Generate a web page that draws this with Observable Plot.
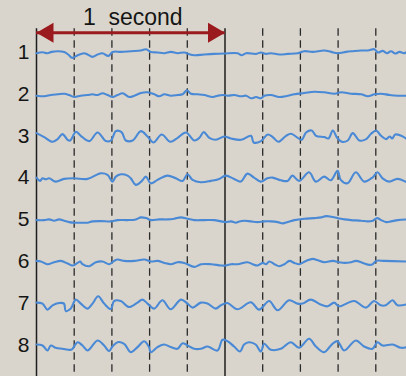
<!DOCTYPE html>
<html>
<head>
<meta charset="utf-8">
<script src="https://cdn.jsdelivr.net/npm/d3@7"></script>
<script src="https://cdn.jsdelivr.net/npm/@observablehq/plot@0.6"></script>
<style>
  html, body { margin: 0; padding: 0; background: #d9d5cc; }
  #chart { width: 406px; height: 376px; overflow: hidden; }
</style>
</head>
<body>
<div id="chart"></div>
<script>
// EEG montage: eight channels, time in ms, amplitude in µV (relative to each channel's baseline)
const channels = ["1", "2", "3", "4", "5", "6", "7", "8"];

const ch1 = [[0,0],[32,1],[58,0],[80,1.3],[112,2],[147,1.3],[168,-1.3],[191,-4.7],[218,-2],[253,0],[271,-1.3],[297,-3.7],[324,-1.3],[350,0],[381,-2.7],[404,1.3],[448,1.3],[501,2],[554,2.7],[581,4],[607,1.3],[642,0.7],[678,0],[713,1.3],[749,0],[784,0.7],[811,-1],[837,-2],[890,-1.3],[943,-0.7],[996,-0.3],[1067,0],[1088,-2],[1112,0],[1165,-0.7],[1191,0.7],[1218,-0.7],[1244,0],[1288,-1.3],[1333,-0.7],[1386,0],[1421,2],[1465,1.3],[1527,2.7],[1563,1.3],[1598,0],[1642,1.3],[1678,2],[1722,2.7],[1758,2.7],[1793,4],[1811,0.7],[1837,2.3],[1860,0],[1881,2],[1903,-0.3],[1926,1.3],[1949,0],[1966,1.3]];

const ch2 = [[0,-0.7],[41,-1.3],[76,0],[112,0.7],[147,1.3],[173,0],[200,-2],[235,-0.7],[271,0],[297,0.7],[324,0],[350,1.7],[377,0],[404,-2],[430,0],[457,1.7],[492,-2],[519,-0.7],[554,2],[589,2.7],[625,0.7],[651,-1.3],[678,0.7],[713,-0.7],[749,0],[775,0.7],[798,4.7],[819,1.3],[855,0.7],[890,0],[935,-2],[961,-0.7],[988,0],[1014,-0.7],[1050,0],[1085,-1.3],[1112,-0.7],[1138,-3.3],[1165,-2],[1191,-3.3],[1209,-0.7],[1244,0],[1288,-2],[1333,-0.7],[1368,0.7],[1421,2],[1474,3.3],[1527,2.7],[1581,1.3],[1616,2.7],[1669,1.3],[1722,0.7],[1758,-1.3],[1793,0.7],[1828,1.3],[1873,0],[1917,-0.7],[1966,-0.7]];

const ch3 = [[0,3.7],[41,-0.3],[85,-5],[112,-2.3],[138,2.7],[165,-3],[179,-3.7],[209,5],[235,1],[280,-4.3],[324,4.3],[368,-4.3],[395,-3.7],[421,5.7],[451,4.7],[474,-3.7],[510,-3.7],[554,5.7],[589,0.3],[621,-5.7],[664,2.3],[710,-5],[749,-1],[793,4.3],[837,-3.7],[864,-1],[887,4.7],[917,-1],[952,-3],[996,0.3],[1032,-1.7],[1085,-3],[1138,1],[1152,-5.7],[1191,-4.3],[1227,2.3],[1253,-0.3],[1283,-5],[1324,1],[1350,3],[1386,-1],[1407,-3],[1430,4.3],[1460,6.3],[1483,1],[1527,-0.3],[1549,-1.7],[1572,6.3],[1595,-1],[1620,-5],[1651,-3.7],[1678,3.7],[1713,-3.7],[1749,-2.3],[1775,3],[1802,6.3],[1828,1],[1855,-2.3],[1873,0.3],[1887,-1.7],[1903,2.3],[1935,1],[1966,-2.3]];

const ch4 = [[0,1],[19,-2.3],[32,0.3],[49,-0.7],[67,0.3],[102,-3],[146,-0.3],[199,0.3],[271,-0.3],[341,5.3],[377,3.7],[403,-3],[421,2],[448,4.3],[483,3],[500,0.3],[527,-6.3],[559,-2.3],[580,2],[606,-4.7],[642,-1.3],[695,3],[739,0.3],[775,-2.3],[801,4.3],[828,-1.3],[872,-3.7],[925,-2.3],[969,-0.3],[1004,3],[1048,-0.3],[1084,-3],[1119,5],[1154,1],[1190,-3],[1225,0.3],[1252,1],[1296,-1.7],[1332,-2.3],[1358,3],[1393,-2.3],[1446,6.3],[1482,-3],[1526,2],[1561,-1.7],[1597,7.7],[1614,-1.3],[1650,-4.7],[1694,6.3],[1738,-3],[1782,1],[1809,6.3],[1836,0.3],[1871,-3],[1915,-0.3],[1964,-3.7]];

const ch5 = [[0,0.3],[41,0.3],[67,1],[94,-0.3],[120,1],[147,-0.3],[173,-1.7],[200,-2.3],[235,-2.3],[271,-2.3],[297,-1],[342,-0.7],[395,-1],[430,0.3],[483,0.3],[527,1],[554,3],[581,2.3],[607,0.3],[651,1],[696,1],[731,1.7],[766,3],[802,1.7],[837,0.3],[890,0.3],[943,0.3],[979,-1],[1005,-1.7],[1032,-1],[1058,-2.3],[1076,-1],[1103,-0.3],[1138,-1],[1173,-1.7],[1209,-1],[1244,-1],[1280,-1.7],[1306,-3],[1333,-1.7],[1368,0.3],[1421,1.7],[1474,2.3],[1510,3],[1536,4.3],[1563,3.7],[1598,2.3],[1634,1],[1669,0.3],[1722,-0.3],[1758,-1],[1784,-0.3],[1807,2.3],[1828,0.3],[1855,-1.7],[1881,-1],[1917,0.3],[1966,1]];

const ch6 = [[0,1.3],[23,0.7],[58,-2],[94,0],[129,1.3],[165,-1.3],[191,-3.3],[218,-0.7],[232,0.7],[244,-2],[280,-4],[315,0],[350,0.7],[386,-2],[412,1.3],[430,2.7],[466,1.3],[519,1.3],[572,2.7],[607,0.7],[642,1.3],[678,-0.7],[713,-2],[749,0],[784,-0.7],[837,-4.7],[873,-2],[926,-2],[979,-3.3],[1005,-3.3],[1032,-2],[1067,-2],[1120,0],[1147,-2],[1173,-3.3],[1200,-0.7],[1218,-2],[1235,0.7],[1262,-2],[1288,-4],[1315,-2],[1342,1.3],[1368,-0.7],[1395,-2],[1430,1.3],[1466,3.3],[1492,2],[1527,0],[1572,1.3],[1607,0],[1634,-0.7],[1669,0],[1696,1.3],[1731,-0.7],[1767,-2.7],[1784,-2],[1802,1.3],[1846,1.3],[1966,0.7]];

const ch7 = [[0,1.4],[32,0.3],[58,-5.6],[85,-1.3],[120,1],[146,0.4],[155,-7],[182,-4.6],[208,4.4],[235,0.4],[271,-4.6],[297,0.4],[327,7.7],[359,0.4],[394,-5],[412,3],[447,3],[491,-3],[536,1.4],[562,4.4],[589,0.4],[624,-4.6],[668,3.7],[712,-5.3],[766,4.4],[801,0.4],[828,-3.6],[872,1.4],[907,0.4],[951,-4.6],[978,-1.3],[1013,1],[1066,-5.3],[1137,1.7],[1181,-5.6],[1234,3],[1279,-6.3],[1340,3.7],[1385,0.4],[1411,0.4],[1455,4.4],[1508,-0.6],[1544,-2.3],[1579,1.4],[1605,-2.3],[1685,3],[1747,-3.6],[1791,3],[1826,-1.3],[1853,-1.3],[1889,3.7],[1915,-1.3],[1964,-0.3]];

const ch8 = [[0,1.3],[32,0.3],[58,-4.7],[76,0.3],[102,-2],[138,-3],[182,-4],[191,-3],[218,3.6],[244,0.3],[271,-4.7],[324,5.3],[359,0.3],[385,-5.4],[403,-0.7],[430,3.6],[465,2],[500,-6.4],[536,-1.3],[571,4.6],[597,-1.3],[606,-6.4],[642,-1.3],[677,1.3],[712,-1.3],[748,-3],[775,2.6],[801,0.3],[836,-3],[872,-3],[907,-0.7],[960,-4.7],[987,6],[1013,4.7],[1048,-0.7],[1080,-5.7],[1101,1.3],[1128,3.6],[1163,1.3],[1190,-5.7],[1208,2],[1243,-4],[1296,-3],[1349,3.6],[1393,-2],[1446,7],[1482,-0.7],[1526,-6.4],[1570,2],[1597,4.6],[1632,-4.7],[1694,5.3],[1738,-0.7],[1782,-3],[1809,3.6],[1836,0.3],[1889,1.3],[1933,-2],[1964,-1.4]];

const series = [ch1, ch2, ch3, ch4, ch5, ch6, ch7, ch8];

// time grid (s): solid lines mark the one-second span, dashed every 200 ms
const solidTicks = [0, 1];
const dashedTicks = [0.2, 0.4, 0.6, 0.8, 1.2, 1.4, 1.6, 1.8];
const scaleBarLabel = "1\u00a0\u00a0second";
const scaleBar = [0, 1];

const SPACING = 41.8;      // vertical gap between channels, µV
const X_MAX = 370 / 188.5; // visible time window, s
const Y_TOP = 52.7, Y_BOTTOM = Y_TOP - 376;
const GRID_TOP = 24.4;
const BAR_Y = 20.4, LABEL_Y = 35.7;

const rows = series.flatMap((pts, k) =>
  pts.map(([ms, uv]) => ({ch: channels[k], t: ms / 1000, y: uv - k * SPACING}))
);
const labels = channels.map((c, k) => ({ch: c, y: -k * SPACING}));

const red = "#9b1a1d";
const headLeft = {draw(ctx) { ctx.moveTo(0, 0); ctx.lineTo(17, -10); ctx.lineTo(17, 10); ctx.closePath(); }};
const headRight = {draw(ctx) { ctx.moveTo(0, 0); ctx.lineTo(-17, -10); ctx.lineTo(-17, 10); ctx.closePath(); }};

const chart = Plot.plot({
  width: 406,
  height: 376,
  marginTop: 0,
  marginBottom: 0,
  marginRight: 0,
  marginLeft: 36,
  x: {domain: [0, X_MAX], axis: null},
  y: {domain: [Y_BOTTOM, Y_TOP], axis: null},
  style: {background: "transparent", fontFamily: "'Liberation Sans', Arial, sans-serif"},
  marks: [
    Plot.ruleX(dashedTicks, {y1: GRID_TOP, y2: Y_BOTTOM, stroke: "#2a2a2a", strokeWidth: 1.3, strokeDasharray: "7.5,4.5"}),
    Plot.ruleX(solidTicks, {y1: GRID_TOP, y2: Y_BOTTOM, stroke: "#1e1e1e", strokeWidth: 1.5}),
    Plot.line(rows, {x: "t", y: "y", z: "ch", stroke: "#4a89d6", strokeWidth: 2.1, curve: "catmull-rom"}),
    Plot.text(labels, {x: 0, y: "y", text: "ch", dx: -7, dy: -1, textAnchor: "end", fontSize: 21, fill: "#151515"}),
    Plot.ruleY([BAR_Y], {x1: scaleBar[0], x2: scaleBar[1], stroke: red, strokeWidth: 3}),
    Plot.dot([scaleBar[0]], {x: d => d, y: BAR_Y, symbol: headLeft, fill: red, stroke: null}),
    Plot.dot([scaleBar[1]], {x: d => d, y: BAR_Y, symbol: headRight, fill: red, stroke: null}),
    Plot.text([scaleBarLabel], {x: (scaleBar[0] + scaleBar[1]) / 2, y: LABEL_Y, text: d => d, dx: 2, fontSize: 23, fill: "#151515"})
  ]
});
document.getElementById("chart").append(chart);
</script>
</body>
</html>
